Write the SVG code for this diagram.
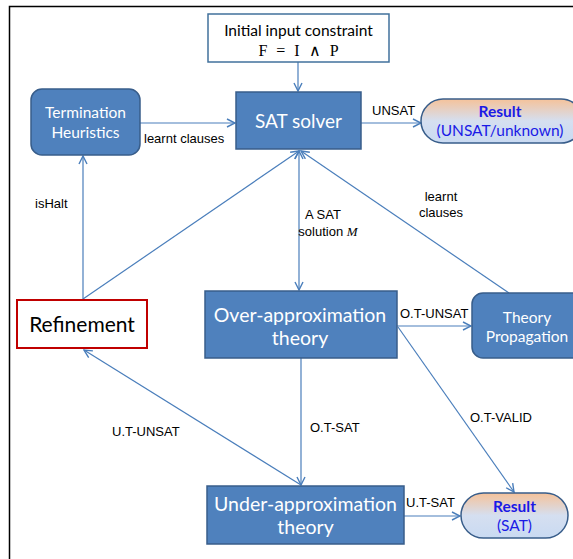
<svg xmlns="http://www.w3.org/2000/svg" width="573" height="559" viewBox="0 0 573 559">
<defs>
<marker id="arr" viewBox="0 0 10 10" refX="9" refY="5" markerWidth="10" markerHeight="10" markerUnits="userSpaceOnUse" orient="auto-start-reverse">
<path d="M1,1 L9,5 L1,9" fill="none" stroke="#4A7EBB" stroke-width="1.4"/>
</marker>
<linearGradient id="res" x1="0" y1="0" x2="0" y2="1">
<stop offset="0" stop-color="#F5C29A"/>
<stop offset="0.5" stop-color="#D5DFF0"/>
<stop offset="1" stop-color="#C9DAF2"/>
</linearGradient>
</defs>
<style>
.box{fill:#4F81BD;stroke:#385D8A;stroke-width:1.5}
.wt{fill:#fff;font-family:Lato,"Open Sans",sans-serif;text-anchor:middle}
.lbl{fill:#000;font-family:"Liberation Sans",Arial,sans-serif;font-size:13px}
.res{fill:url(#res);stroke:#385D8A;stroke-width:1.5}
.rt{fill:#1A1AE6;font-family:Lato,"Open Sans",sans-serif;font-size:15.5px;text-anchor:middle}
.con{stroke:#4A7EBB;stroke-width:1.2;fill:none}
</style>
<rect width="573" height="559" fill="#fff"/>
<path d="M9.5,559 V6.5 H573" fill="none" stroke="#000" stroke-width="1.5"/>

<g id="connectors">
<line class="con" x1="298" y1="62" x2="298" y2="91" marker-end="url(#arr)"/>
<line class="con" x1="140" y1="123" x2="235" y2="123" marker-end="url(#arr)"/>
<line class="con" x1="361" y1="123" x2="421" y2="123" marker-end="url(#arr)"/>
<line class="con" x1="83" y1="299" x2="83" y2="156" marker-end="url(#arr)"/>
<line class="con" x1="83" y1="299" x2="299" y2="151" marker-end="url(#arr)"/>
<line class="con" x1="299" y1="151" x2="299" y2="290" marker-start="url(#arr)" marker-end="url(#arr)"/>
<line class="con" x1="509" y1="293" x2="301" y2="151" marker-end="url(#arr)"/>
<line class="con" x1="397" y1="326" x2="471" y2="326" marker-end="url(#arr)"/>
<line class="con" x1="398" y1="327" x2="514" y2="492" marker-end="url(#arr)"/>
<line class="con" x1="301" y1="358" x2="301" y2="485" marker-end="url(#arr)"/>
<line class="con" x1="301" y1="485" x2="84" y2="350" marker-end="url(#arr)"/>
<line class="con" x1="404" y1="516" x2="460" y2="516" marker-end="url(#arr)"/>
<text class="lbl" x="144" y="143">learnt clauses</text>
<text class="lbl" x="372" y="115">UNSAT</text>
<text class="lbl" x="35" y="208">isHalt</text>
<text class="lbl" x="323" y="219" text-anchor="middle">A SAT</text>
<text class="lbl" x="328" y="236" text-anchor="middle">solution <tspan font-style="italic" font-family="'Liberation Serif',serif">M</tspan></text>
<text class="lbl" x="441" y="201" text-anchor="middle">learnt</text>
<text class="lbl" x="441" y="217" text-anchor="middle">clauses</text>
<text class="lbl" x="400" y="318">O.T-UNSAT</text>
<text class="lbl" x="470" y="422">O.T-VALID</text>
<text class="lbl" x="310" y="432">O.T-SAT</text>
<text class="lbl" x="112" y="436">U.T-UNSAT</text>
<text class="lbl" x="406" y="507">U.T-SAT</text>
</g>

<g id="initial">
<rect x="208" y="14" width="181" height="48" fill="#fff" stroke="#41719C" stroke-width="1.5"/>
<text x="298.5" y="36" text-anchor="middle" font-family="Lato,'Open Sans',sans-serif" font-size="15.5" fill="#000">Initial input constraint</text>
<text x="298.5" y="56" text-anchor="middle" font-family="'Liberation Serif',serif" font-size="16" word-spacing="5" fill="#000">F = I ∧ P</text>
</g>

<g id="sat-solver">
<rect class="box" x="236" y="92" width="125" height="57"/>
<text class="wt" x="298.5" y="128" font-size="19">SAT solver</text>
</g>

<g id="termination">
<rect class="box" x="31" y="89" width="109" height="66" rx="11"/>
<text class="wt" x="85.5" y="118" font-size="15.5">Termination</text>
<text class="wt" x="85.5" y="138" font-size="15.5">Heuristics</text>
</g>

<g id="result-unsat">
<rect class="res" x="421" y="99" width="162" height="44" rx="22"/>
<text class="rt" x="500" y="117" font-weight="bold">Result</text>
<text class="rt" x="500" y="136">(UNSAT/unknown)</text>
</g>

<g id="refinement">
<rect x="17" y="300" width="130" height="48" fill="#fff" stroke="#C00000" stroke-width="2"/>
<text x="82" y="332" text-anchor="middle" font-family="Lato,'Open Sans',sans-serif" font-size="21" fill="#000">Refinement</text>
</g>

<g id="over-approx">
<rect class="box" x="205" y="291" width="192" height="67"/>
<text class="wt" x="300" y="322" font-size="19.5">Over-approximation</text>
<text class="wt" x="300" y="345" font-size="19.5">theory</text>
</g>

<g id="theory-prop">
<rect class="box" x="472" y="293" width="112" height="65" rx="11"/>
<text class="wt" x="527" y="323" font-size="15.5">Theory</text>
<text class="wt" x="527" y="342" font-size="15.5">Propagation</text>
</g>

<g id="under-approx">
<rect class="box" x="207" y="486" width="197" height="58"/>
<text class="wt" x="305.5" y="511" font-size="19.5">Under-approximation</text>
<text class="wt" x="305.5" y="534" font-size="19.5">theory</text>
</g>

<g id="result-sat">
<rect class="res" x="461" y="493" width="107" height="45" rx="22.5"/>
<text class="rt" x="514.5" y="512" font-weight="bold">Result</text>
<text class="rt" x="514.5" y="531">(SAT)</text>
</g>
</svg>
